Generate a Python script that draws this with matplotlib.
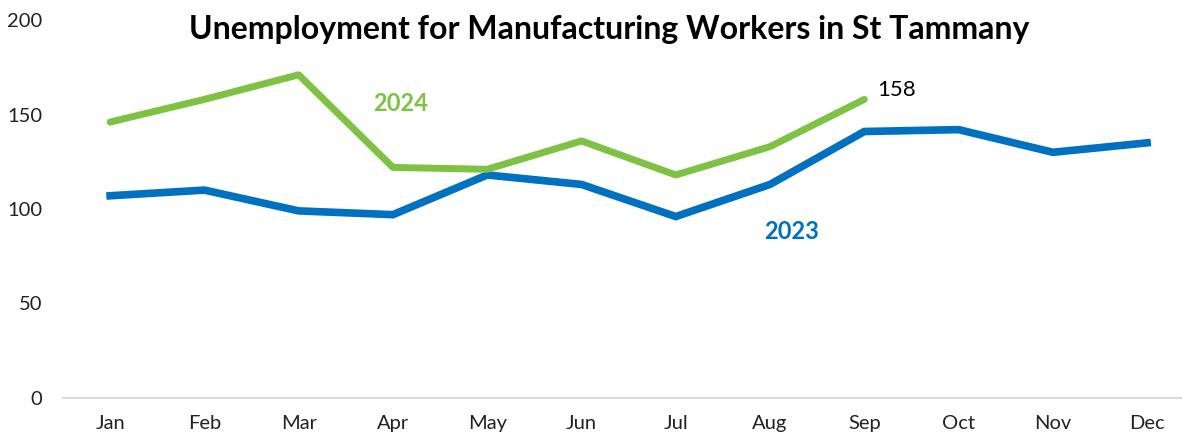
import matplotlib.pyplot as plt

months = ['Jan', 'Feb', 'Mar', 'Apr', 'May', 'Jun', 'Jul', 'Aug', 'Sep', 'Oct', 'Nov', 'Dec']
y2023 = [107, 110, 99, 97, 118, 113, 96, 113, 141, 142, 130, 135]
y2024 = [146, 158, 171, 122, 121, 136, 118, 133, 158]

blue = '#0070C0'
green = '#7DC242'

plt.rcParams['font.family'] = ['Lato', 'DejaVu Sans']

fig = plt.figure(figsize=(11.82, 4.38), dpi=100)
ax = fig.add_axes([63 / 1182, 40 / 438, 1 - 63 / 1182, 378 / 438])

ax.plot(range(len(y2023)), y2023, color=blue, lw=5.5, solid_joinstyle='miter', clip_on=False)
ax.plot(range(len(y2024)), y2024, color=green, lw=5, solid_capstyle='round', clip_on=False)

ax.text(3.08, 156, '2024', color=green, fontsize=17, fontweight='bold', ha='center', va='center')
ax.text(7.23, 88, '2023', color=blue, fontsize=17, fontweight='bold', ha='center', va='center')
ax.text(8.14, y2024[-1] + 5, str(y2024[-1]), color='black', fontsize=16, ha='left', va='center')

ax.set_xlim(-0.5, 11.37)
ax.set_ylim(0, 200)
ax.set_xticks(range(12))
ax.set_xticklabels(months)
ax.set_yticks([0, 50, 100, 150, 200])
ax.tick_params(axis='both', length=0, labelsize=14.5, colors='#222222')
ax.tick_params(axis='y', pad=15)
ax.tick_params(axis='x', pad=12)
for s in ['top', 'right', 'left']:
    ax.spines[s].set_visible(False)
ax.spines['bottom'].set_color('#d9d9d9')
ax.spines['bottom'].set_linewidth(1.5)

fig.text(609 / 1182, 1 - 30 / 438, 'Unemployment for Manufacturing Workers in St Tammany',
         fontsize=23, fontweight='bold', ha='center', va='center')

fig.savefig('out.png', dpi=100)
